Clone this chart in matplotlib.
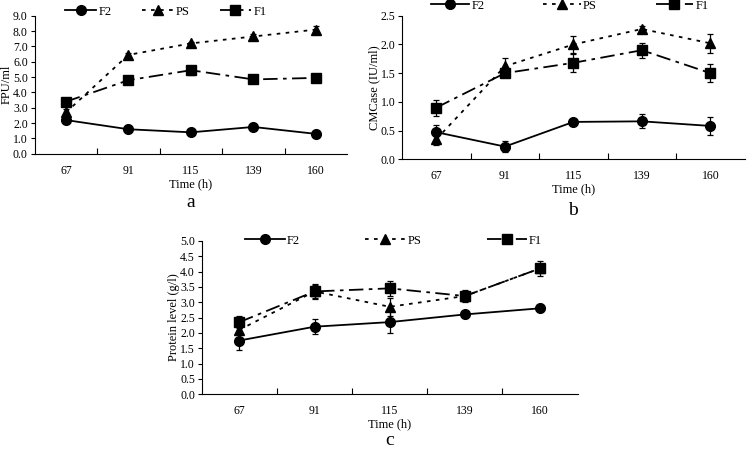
import numpy as np
import matplotlib.pyplot as plt
from matplotlib.lines import Line2D
from matplotlib.ticker import FixedLocator, NullFormatter

plt.rcParams['font.family'] = ['Liberation Serif', 'DejaVu Serif']

times = ['67', '91', '115', '139', '160']

# panel a: FPU/ml
a_f2 = [2.2, 1.6, 1.4, 1.75, 1.3]
a_f2_err = [0.1, 0.1, 0.1, 0.15, 0.2]
a_ps = [2.7, 6.45, 7.2, 7.65, 8.1]
a_ps_err = [0.2, 0.1, 0.1, 0.15, 0.25]
a_f1 = [3.4, 4.8, 5.45, 4.85, 4.95]
a_f1_err = [0.1, 0.1, 0.3, 0.1, 0.1]

# panel b: CMCase
b_f2 = [0.47, 0.22, 0.65, 0.66, 0.58]
b_f2_err = [0.13, 0.1, 0.03, 0.12, 0.15]
b_ps = [0.35, 1.62, 2.0, 2.27, 2.02]
b_ps_err = [0.1, 0.15, 0.15, 0.05, 0.17]
b_f1 = [0.9, 1.5, 1.68, 1.9, 1.5]
b_f1_err = [0.14, 0.05, 0.16, 0.13, 0.16]

# panel c: protein
c_f2 = [1.75, 2.2, 2.35, 2.6, 2.8]
c_f2_err = [0.3, 0.25, 0.35, 0.12, 0.05]
c_ps = [2.1, 3.35, 2.85, 3.2, 4.1]
c_ps_err = [0.15, 0.25, 0.3, 0.1, 0.1]
c_f1 = [2.35, 3.35, 3.45, 3.2, 4.1]
c_f1_err = [0.2, 0.2, 0.25, 0.2, 0.25]

STYLES = [('F2', 'o', '-'), ('PS', '^', (0, (2, 3))), ('F1', 's', (0, (8, 3, 2, 3)))]


def draw_panel(ax, f2, f2e, ps, pse, f1, f1e, ymax, ystep, ylabel, letter, letter_y, leg):
    x = np.arange(len(times)) + 0.5
    kw = dict(color='black', capsize=2.5, elinewidth=0.9, capthick=0.9, lw=1.3, ms=7)
    handles = []
    for (name, mk, ls), vals, errs in zip(STYLES, [f2, ps, f1], [f2e, pse, f1e]):
        ax.errorbar(x, vals, yerr=errs, marker=mk, ls=ls, **kw)
        handles.append(Line2D([], [], color='black', marker=mk, ls=ls, lw=1.3, ms=7, label=name))
    ax.set_xlim(0, len(times))
    ax.set_ylim(0, ymax)
    yt = np.arange(0, ymax + ystep / 2, ystep)
    ax.set_yticks(yt)
    ax.set_yticklabels([f'{v:.1f}' for v in yt], fontsize=8.5)
    ax.xaxis.set_major_locator(FixedLocator(np.arange(1, len(times))))
    ax.xaxis.set_major_formatter(NullFormatter())
    ax.xaxis.set_minor_locator(FixedLocator(x))
    ax.set_xticklabels(times, minor=True, fontsize=8.5)
    ax.tick_params(axis='x', which='major', direction='in', length=4)
    ax.tick_params(axis='x', which='minor', length=0, pad=8)
    ax.tick_params(axis='y', direction='out', length=3, pad=2)
    for s in ['top', 'right']:
        ax.spines[s].set_visible(False)
    ax.set_xlabel('Time (h)', fontsize=9, labelpad=1)
    ax.set_ylabel(ylabel, fontsize=9, labelpad=0)
    cx, cy, hl, cs = leg
    ax.legend(handles=handles, loc='center', bbox_to_anchor=(cx, cy), ncol=3, frameon=False,
              fontsize=9, handlelength=hl, columnspacing=cs, handletextpad=0.2, borderpad=0)
    ax.text(0.5, letter_y, letter, transform=ax.transAxes, ha='center', va='center', fontsize=14)


fig = plt.figure(figsize=(7.56, 4.51), dpi=100)
ax_a = fig.add_axes([0.046, 0.659, 0.413, 0.306])
ax_b = fig.add_axes([0.532, 0.647, 0.453, 0.318])
ax_c = fig.add_axes([0.267, 0.126, 0.497, 0.340])

draw_panel(ax_a, a_f2, a_f2_err, a_ps, a_ps_err, a_f1, a_f1_err, 9.0, 1.0, 'FPU/ml', 'a', -0.35,
           (0.42, 1.03, 2.5, 2.4))
draw_panel(ax_b, b_f2, b_f2_err, b_ps, b_ps_err, b_f1, b_f1_err, 2.5, 0.5, 'CMCase (IU/ml)', 'b', -0.36,
           (0.49, 1.07, 3.0, 4.7))
draw_panel(ax_c, c_f2, c_f2_err, c_ps, c_ps_err, c_f1, c_f1_err, 5.0, 0.5, 'Protein level (g/l)', 'c', -0.30,
           (0.51, 1.0, 3.2, 5.2))

fig.savefig('out.png', dpi=100)
